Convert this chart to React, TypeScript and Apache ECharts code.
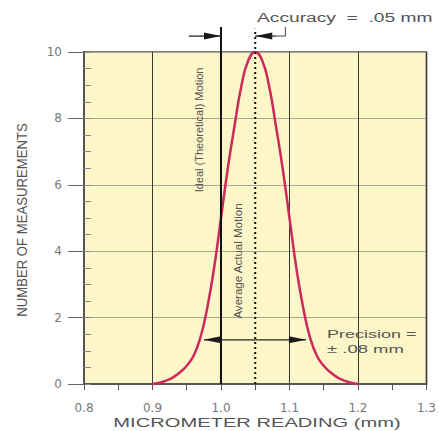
import React, { useEffect, useRef } from "react";
import * as echarts from "echarts";

const xValues = [
  0.9, 0.91, 0.92, 0.93, 0.94, 0.95, 0.96, 0.97, 0.98, 0.99, 1.0, 1.01, 1.02, 1.03, 1.04, 1.05,
  1.06, 1.07, 1.08, 1.09, 1.1, 1.11, 1.12, 1.13, 1.14, 1.15, 1.16, 1.17, 1.18, 1.19, 1.2,
];
const counts = [
  0, 0.04, 0.1, 0.2, 0.35, 0.55, 0.85, 1.4, 2.3, 3.5, 5.0, 6.5, 7.8, 9.0, 9.75, 10,
  9.75, 9.0, 7.8, 6.5, 5.0, 3.5, 2.3, 1.4, 0.85, 0.55, 0.35, 0.2, 0.1, 0.04, 0,
];
const idealValue = 1.0;
const averageValue = 1.05;
const precisionRange = [0.975, 1.124];
const precisionLevel = 1.33;
const accuracyLevel = 10.48;
const accuracyLeftTail = 0.953;
const accuracyRightTail = 1.081;
const leaderX = 1.094;
const lineTop = 10.75;

const FONT = "Liberation Sans, Arial, sans-serif";
const TXT = "#555";

export default function App() {
  const ref = useRef<HTMLDivElement>(null);
  useEffect(() => {
    document.body.style.margin = "0";
    const chart = echarts.init(ref.current!, null, { renderer: "svg" });
    chart.setOption({
      animation: false,
      backgroundColor: "#ffffff",
      grid: {
        left: 84,
        right: 10,
        top: 52,
        bottom: 47,
        show: true,
        backgroundColor: "#fdf6c8",
        borderColor: "#808070",
        borderWidth: 2,
      },
      xAxis: [
        {
          type: "value",
          min: 0.8,
          max: 1.3,
          interval: 0.1,
          axisLine: { show: true, onZero: false, lineStyle: { color: "#555", width: 2 } },
          axisTick: { show: true, length: 6, lineStyle: { color: "#555" } },
          minorTick: { show: true, splitNumber: 2, length: 6, lineStyle: { color: "#555" } },
          axisLabel: {
            formatter: (v: number) => v.toFixed(1),
            fontSize: 12,
            fontFamily: "DejaVu Sans",
            color: "#777",
            margin: 18,
          },
          splitLine: { show: true, lineStyle: { color: "#3a3a30", width: 1 } },
        },
      ],
      yAxis: [
        {
          type: "value",
          min: 0,
          max: 10,
          interval: 2,
          axisLine: { show: true, lineStyle: { color: "#555", width: 2 } },
          axisTick: { show: true, length: 16, lineStyle: { color: "#666" } },
          axisLabel: { fontSize: 12, fontFamily: "DejaVu Sans", color: "#777", margin: 22 },
          splitLine: { show: true, lineStyle: { color: "#a8a890", width: 1 } },
        },
        {
          type: "value",
          min: 0,
          max: 10,
          interval: 0.5,
          position: "left",
          axisLine: { show: false },
          axisTick: { show: true, inside: true, length: 7, lineStyle: { color: "#888" } },
          axisLabel: { show: false },
          splitLine: { show: false },
        },
      ],
      series: [
        {
          type: "line",
          data: xValues.map((x, i) => [x, counts[i]]),
          smooth: true,
          showSymbol: false,
          clip: false,
          lineStyle: { color: "#cc2a5c", width: 2.5 },
          z: 3,
        },
      ],
    });

    const px = (x: number, y: number) => chart.convertToPixel({ seriesIndex: 0 }, [x, y]) as number[];
    const head = (tip: number[], from: number[], len = 17, half = 3.5) => {
      const dx = tip[0] - from[0];
      const dy = tip[1] - from[1];
      const d = Math.hypot(dx, dy) || 1;
      const ux = dx / d;
      const uy = dy / d;
      const bx = tip[0] - ux * len;
      const by = tip[1] - uy * len;
      return {
        type: "polygon",
        z: 10,
        shape: { points: [tip, [bx - uy * half, by + ux * half], [bx + uy * half, by - ux * half]] },
        style: { fill: "#1a1a1a" },
      };
    };
    const seg = (a: number[], b: number[], style: any) => ({
      type: "line",
      z: 10,
      shape: { x1: a[0], y1: a[1], x2: b[0], y2: b[1] },
      style,
    });

    const ideal0 = px(idealValue, 0);
    const idealT = px(idealValue, lineTop);
    const avg0 = px(averageValue, 0);
    const avgT = px(averageValue, lineTop - 0.05);
    const pL = px(precisionRange[0], precisionLevel);
    const pR = px(precisionRange[1], precisionLevel);
    const aL = px(accuracyLeftTail, accuracyLevel);
    const aLTip = px(idealValue, accuracyLevel);
    const aR = px(accuracyRightTail, accuracyLevel);
    const aRTip = px(averageValue, accuracyLevel);
    const lead1 = px(leaderX, accuracyLevel);
    const lead2 = px(leaderX, lineTop);

    const thin = { stroke: "#222", lineWidth: 1.2 };

    chart.setOption({
      graphic: [
        seg(ideal0, idealT, { stroke: "#111", lineWidth: 2 }),
        seg(avg0, avgT, { stroke: "#111", lineWidth: 2, lineDash: [2, 3] }),
        seg(pL, pR, thin),
        head(pL, pR),
        head(pR, pL),
        seg(aL, aLTip, thin),
        head(aLTip, aL),
        seg(aR, aRTip, thin),
        head(aRTip, aR),
        { type: "polyline", z: 10, shape: { points: [aR, lead1, lead2] }, style: { stroke: "#444", lineWidth: 1, fill: null } },
        {
          type: "text",
          x: 22,
          y: 220,
          rotation: Math.PI / 2,
          scaleX: 0.94,
          style: { text: "NUMBER OF MEASUREMENTS", fontSize: 14, fontFamily: FONT, fill: TXT, align: "center", verticalAlign: "middle" },
        },
        {
          type: "text",
          x: 257,
          y: 423,
          scaleX: 1.55,
          style: { text: "MICROMETER READING (mm)", fontSize: 13, fontFamily: FONT, fill: TXT, align: "center", verticalAlign: "middle" },
        },
        {
          type: "text",
          x: 199,
          y: 130,
          rotation: Math.PI / 2,
          style: { text: "Ideal (Theoretical) Motion", fontSize: 11, fontFamily: FONT, fill: TXT, align: "center", verticalAlign: "middle" },
        },
        {
          type: "text",
          x: 238,
          y: 261,
          rotation: Math.PI / 2,
          scaleX: 1.05,
          style: { text: "Average Actual Motion", fontSize: 11, fontFamily: FONT, fill: TXT, align: "center", verticalAlign: "middle" },
        },
        {
          type: "text",
          x: 327,
          y: 335,
          scaleX: 1.8,
          style: { text: "Precision =", fontSize: 10, fontFamily: FONT, fill: TXT, align: "left", verticalAlign: "middle" },
        },
        {
          type: "text",
          x: 327,
          y: 350,
          scaleX: 1.85,
          style: { text: "± .08 mm", fontSize: 10, fontFamily: FONT, fill: TXT, align: "left", verticalAlign: "middle" },
        },
        {
          type: "text",
          x: 257,
          y: 18,
          scaleX: 1.6,
          style: { text: "Accuracy  =  .05 mm", fontSize: 12, fontFamily: FONT, fill: TXT, align: "left", verticalAlign: "middle" },
        },
      ],
    });
    return () => chart.dispose();
  }, []);
  return <div ref={ref} style={{ position: "fixed", left: 0, top: 0, width: 439, height: 431 }} />;
}
